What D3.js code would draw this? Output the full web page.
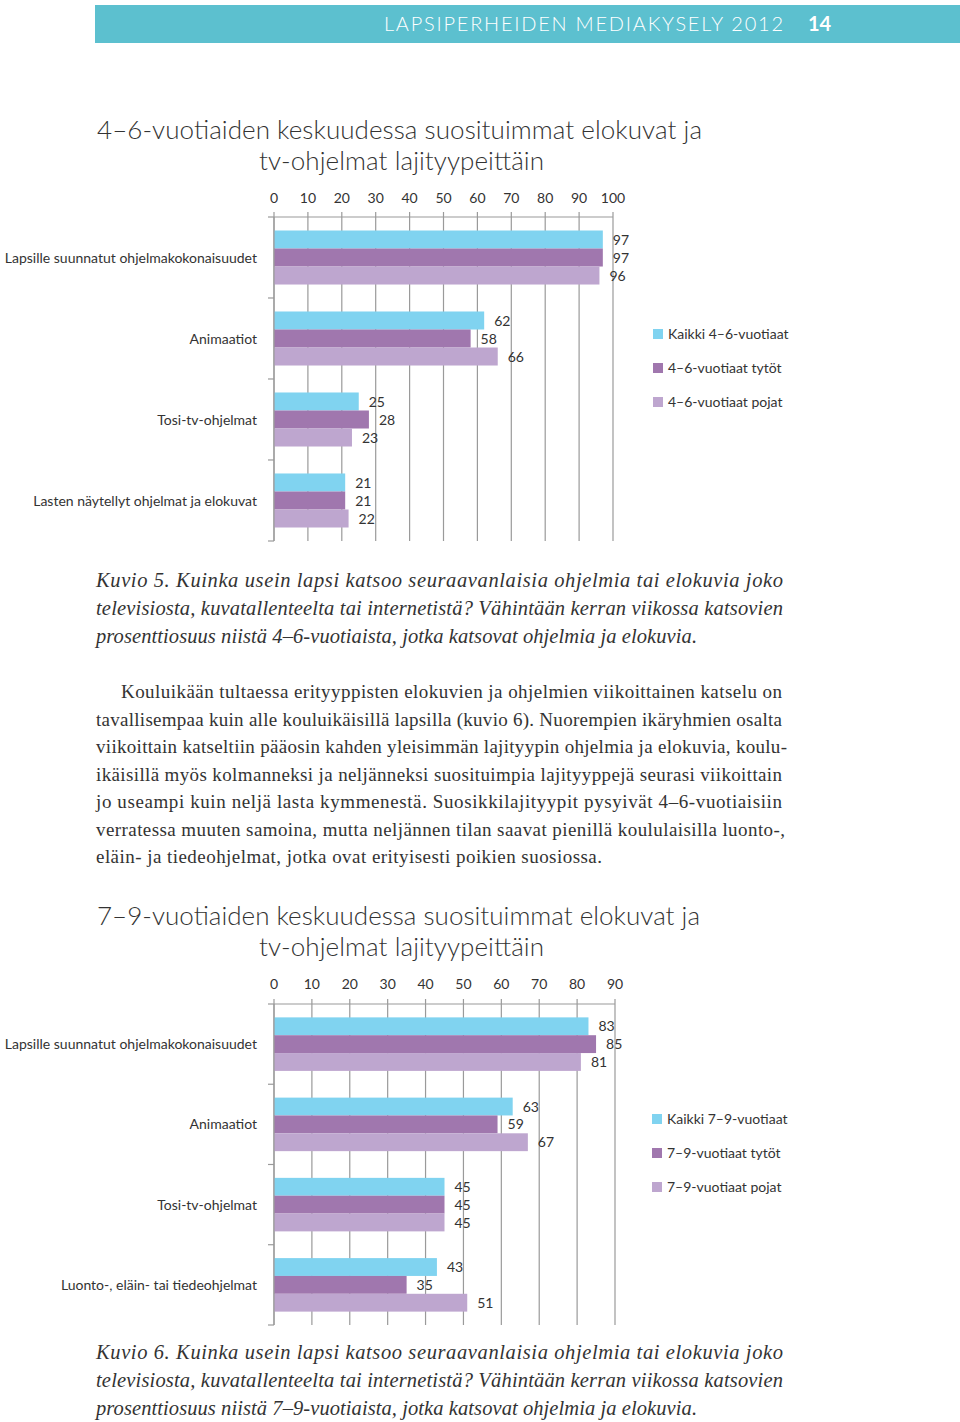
<!DOCTYPE html>
<html><head><meta charset="utf-8">
<script src="https://cdn.jsdelivr.net/npm/d3@7"></script>
<style>body{margin:0;background:#fff}svg{display:block}</style>
</head><body>
<script>
// ---- data ----
const series = ["all", "girls", "boys"];
const colors = ["#80d3f0", "#a077ae", "#bea6cf"];

const categories1 = ["Lapsille suunnatut ohjelmakokonaisuudet", "Animaatiot", "Tosi-tv-ohjelmat", "Lasten näytellyt ohjelmat ja elokuvat"];
const all1 = [97, 62, 25, 21];
const girls1 = [97, 58, 28, 21];
const boys1 = [96, 66, 23, 22];
const ticks1 = [0, 10, 20, 30, 40, 50, 60, 70, 80, 90, 100];
const legend1 = ["Kaikki 4–6-vuotiaat", "4–6-vuotiaat tytöt", "4–6-vuotiaat pojat"];

const categories2 = ["Lapsille suunnatut ohjelmakokonaisuudet", "Animaatiot", "Tosi-tv-ohjelmat", "Luonto-, eläin- tai tiedeohjelmat"];
const all2 = [83, 63, 45, 43];
const girls2 = [85, 59, 45, 35];
const boys2 = [81, 67, 45, 51];
const ticks2 = [0, 10, 20, 30, 40, 50, 60, 70, 80, 90];
const legend2 = ["Kaikki 7–9-vuotiaat", "7–9-vuotiaat tytöt", "7–9-vuotiaat pojat"];

const caption1 = [
  ["Kuvio 5. Kuinka usein lapsi katsoo seuraavanlaisia ohjelmia tai elokuvia joko", 687],
  ["televisiosta, kuvatallenteelta tai internetistä? Vähintään kerran viikossa katsovien", 687],
  ["prosenttiosuus niistä 4–6-vuotiaista, jotka katsovat ohjelmia ja elokuvia.", 601]
];
const body = [
  ["Kouluikään tultaessa erityyppisten elokuvien ja ohjelmien viikoittainen katselu on", 661, 121],
  ["tavallisempaa kuin alle kouluikäisillä lapsilla (kuvio 6). Nuorempien ikäryhmien osalta", 686, 96],
  ["viikoittain katseltiin pääosin kahden yleisimmän lajityypin ohjelmia ja elokuvia, koulu-", 691, 96],
  ["ikäisillä myös kolmanneksi ja neljänneksi suosituimpia lajityyppejä seurasi viikoittain", 686, 96],
  ["jo useampi kuin neljä lasta kymmenestä. Suosikkilajityypit pysyivät 4–6-vuotiaisiin", 686, 96],
  ["verratessa muuten samoina, mutta neljännen tilan saavat pienillä koululaisilla luonto-,", 689, 96],
  ["eläin- ja tiedeohjelmat, jotka ovat erityisesti poikien suosiossa.", 506, 96]
];
const caption2 = [
  ["Kuvio 6. Kuinka usein lapsi katsoo seuraavanlaisia ohjelmia tai elokuvia joko", 687],
  ["televisiosta, kuvatallenteelta tai internetistä? Vähintään kerran viikossa katsovien", 687],
  ["prosenttiosuus niistä 7–9-vuotiaista, jotka katsovat ohjelmia ja elokuvia.", 601]
];

const W = 960, H = 1422;
const svg = d3.select("body").append("svg").attr("width", W).attr("height", H);
const sans = "Lato, 'Open Sans', sans-serif";
const serif = "'Liberation Serif', 'DejaVu Serif', serif";
const textCol = "#333";

// header
svg.append("rect").attr("x", 95).attr("y", 5).attr("width", 865).attr("height", 38).attr("fill", "#5cc0cf");
svg.append("text").attr("x", 384).attr("y", 31).attr("textLength", 399)
  .attr("font-family", sans).attr("font-weight", 300).attr("font-size", 20).attr("fill", "#fff")
  .text("LAPSIPERHEIDEN MEDIAKYSELY 2012");
svg.append("text").attr("x", 808).attr("y", 31).attr("font-family", sans).attr("font-weight", 700)
  .attr("font-size", 20).attr("fill", "#fff").text("14");

function title(lines, y0) {
  svg.append("text").attr("x", 97).attr("y", y0).attr("textLength", lines[0][1])
    .attr("font-family", sans).attr("font-weight", 300).attr("font-size", 26).attr("fill", textCol).text(lines[0][0]);
  svg.append("text").attr("x", 259).attr("y", y0 + 31).attr("textLength", lines[1][1])
    .attr("font-family", sans).attr("font-weight", 300).attr("font-size", 26).attr("fill", textCol).text(lines[1][0]);
}
title([["4–6-vuotiaiden keskuudessa suosituimmat elokuvat ja", 605], ["tv-ohjelmat lajityypeittäin", 285]], 139);
title([["7–9-vuotiaiden keskuudessa suosituimmat elokuvat ja", 603], ["tv-ohjelmat lajityypeittäin", 285]], 925);

function chart(cfg) {
  const g = svg.append("g");
  const x = d3.scaleLinear().domain([0, cfg.max]).range([274, cfg.xEnd]);
  const y = d3.scaleBand().domain(cfg.cats).range([cfg.top, cfg.bottom]).paddingInner(0.333).paddingOuter(0.1667);
  const inner = d3.scaleBand().domain(series).range([0, y.bandwidth()]);
  const data = [cfg.a, cfg.g, cfg.b];

  // gridlines
  g.selectAll(".grid").data(cfg.ticks).join("line")
    .attr("x1", d => x(d)).attr("x2", d => x(d))
    .attr("y1", cfg.top - 5).attr("y2", cfg.bottom)
    .attr("stroke", "#9a9a9a").attr("stroke-width", 1.2);
  g.append("line").attr("x1", x(0)).attr("x2", x(cfg.max)).attr("y1", cfg.top).attr("y2", cfg.top)
    .attr("stroke", "#9a9a9a").attr("stroke-width", 1.2);
  // top tick labels
  g.selectAll(".tl").data(cfg.ticks).join("text")
    .attr("x", d => x(d)).attr("y", cfg.tickY).attr("dy", "0.36em").attr("text-anchor", "middle")
    .attr("font-family", sans).attr("font-size", 14).attr("fill", textCol).text(d => d);
  // left axis ticks
  const bounds = cfg.cats.map((c, i) => cfg.top + i * y.step()).concat([cfg.bottom]);
  g.selectAll(".lt").data(bounds).join("line")
    .attr("x1", 268).attr("x2", x(0)).attr("y1", d => d).attr("y2", d => d)
    .attr("stroke", "#9a9a9a").attr("stroke-width", 1.2);

  series.forEach((s, si) => {
    g.selectAll(".bar" + si).data(cfg.cats).join("rect")
      .attr("x", x(0)).attr("y", c => y(c) + inner(s))
      .attr("width", (c, i) => x(data[si][i]) - x(0)).attr("height", inner.bandwidth())
      .attr("fill", colors[si]);
    g.selectAll(".val" + si).data(cfg.cats).join("text")
      .attr("x", (c, i) => x(data[si][i]) + 10).attr("y", c => y(c) + inner(s) + inner.bandwidth() / 2)
      .attr("dy", "0.36em").attr("font-family", sans).attr("font-size", 14).attr("fill", textCol)
      .text((c, i) => data[si][i]);
  });
  // category labels
  g.selectAll(".cl").data(cfg.cats).join("text")
    .attr("x", 257).attr("y", c => y(c) + y.bandwidth() / 2).attr("dy", "0.36em")
    .attr("text-anchor", "end").attr("font-family", sans).attr("font-size", 14).attr("fill", textCol)
    .text(c => c);
  // axis line
  g.append("line").attr("x1", x(0)).attr("x2", x(0)).attr("y1", cfg.top).attr("y2", cfg.bottom)
    .attr("stroke", "#9a9a9a").attr("stroke-width", 1.2);

  // legend
  cfg.legend.forEach((t, i) => {
    const ly = cfg.legendY + i * 34;
    g.append("rect").attr("x", cfg.legendX).attr("y", ly - 5).attr("width", 10).attr("height", 10).attr("fill", colors[i]);
    g.append("text").attr("x", cfg.legendX + 15).attr("y", ly).attr("dy", "0.36em")
      .attr("font-family", sans).attr("font-size", 14).attr("fill", textCol).text(t);
  });
}

chart({cats: categories1, a: all1, g: girls1, b: boys1, ticks: ticks1, max: 100, xEnd: 613,
  top: 217, bottom: 541, tickY: 198, legend: legend1, legendX: 653, legendY: 334});
chart({cats: categories2, a: all2, g: girls2, b: boys2, ticks: ticks2, max: 90, xEnd: 615,
  top: 1004, bottom: 1325, tickY: 984, legend: legend2, legendX: 652, legendY: 1119});

function para(lines, y0, italic, step, size) {
  lines.forEach((l, i) => {
    svg.append("text").attr("x", l[2] || 96).attr("y", y0 + i * step).attr("textLength", l[1])
      .attr("font-family", serif).attr("font-style", italic ? "italic" : "normal")
      .attr("font-size", size).attr("fill", textCol).text(l[0]);
  });
}
para(caption1, 587, true, 28, 20.5);
para(body, 698, false, 27.5, 19);
para(caption2, 1359, true, 28, 20.5);
</script>
</body></html>
